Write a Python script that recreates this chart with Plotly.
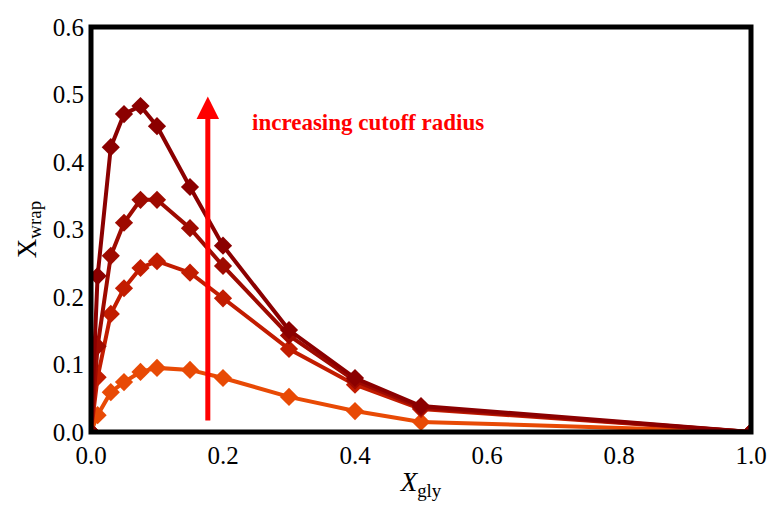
import plotly.graph_objects as go

x_gly = [0, 0.01, 0.03, 0.05, 0.075, 0.1, 0.15, 0.2, 0.3, 0.4, 0.5, 1.0]
wrap_r4 = [0, 0.231, 0.422, 0.471, 0.483, 0.453, 0.363, 0.276, 0.151, 0.080, 0.0385, 0]
wrap_r3 = [0, 0.127, 0.261, 0.310, 0.344, 0.344, 0.302, 0.246, 0.143, 0.076, 0.036, 0]
wrap_r2 = [0, 0.081, 0.175, 0.213, 0.243, 0.253, 0.236, 0.198, 0.123, 0.070, 0.034, 0]
wrap_r1 = [0, 0.025, 0.059, 0.074, 0.089, 0.095, 0.092, 0.080, 0.052, 0.031, 0.015, 0]

series = [
    (wrap_r1, "#E84A05"),
    (wrap_r2, "#C21C00"),
    (wrap_r3, "#9E0A00"),
    (wrap_r4, "#8B0000"),
]

x_ticks = [0, 0.2, 0.4, 0.6, 0.8, 1.0]
x_ticklabels = ["0.0", "0.2", "0.4", "0.6", "0.8", "1.0"]
y_ticks = [0, 0.1, 0.2, 0.3, 0.4, 0.5, 0.6]
y_ticklabels = ["0.0", "0.1", "0.2", "0.3", "0.4", "0.5", "0.6"]

FONT = "Liberation Serif"

fig = go.Figure()
for ys, col in series:
    fig.add_trace(go.Scatter(
        x=x_gly, y=ys, mode="lines+markers",
        line=dict(color=col, width=4),
        marker=dict(symbol="diamond", size=14, color=col),
        showlegend=False,
    ))

fig.add_annotation(
    x=0.177, y=0.497, ax=0.177, ay=0.015, xref="x", yref="y", axref="x", ayref="y",
    text="", showarrow=True, arrowhead=2, arrowsize=0.9, arrowwidth=5, arrowcolor="#FF0000",
)
fig.add_annotation(
    x=0.42, y=0.459, xref="x", yref="y", text="<b>increasing cutoff radius</b>",
    showarrow=False, font=dict(family=FONT, size=23, color="#FF0000"),
)

fig.add_shape(type="rect", xref="paper", yref="paper", x0=0, y0=0, x1=1, y1=1,
              line=dict(color="black", width=5), layer="above")

fig.update_layout(
    width=769, height=506,
    margin=dict(l=91, r=18, t=27, b=74, autoexpand=False),
    plot_bgcolor="white", paper_bgcolor="white",
    font=dict(family=FONT, size=25, color="black"),
    xaxis=dict(range=[0, 1.0], tickvals=x_ticks, ticktext=x_ticklabels,
               showgrid=False, zeroline=False, ticks="", ticklen=0,
               ticklabelstandoff=6, automargin=False,
               title=dict(text="<i>X</i><sub>gly</sub>", font=dict(family=FONT, size=27), standoff=4)),
    yaxis=dict(range=[0, 0.6], tickvals=y_ticks, ticktext=y_ticklabels,
               showgrid=False, zeroline=False, ticks="", ticklen=0,
               ticklabelstandoff=6, automargin=False,
               title=dict(text="X<sub>wrap</sub>", font=dict(family=FONT, size=27), standoff=8)),
)

fig.write_html("out.html", config={"displayModeBar": False},
               post_script="document.body.style.margin='0';document.body.style.overflow='hidden';")
